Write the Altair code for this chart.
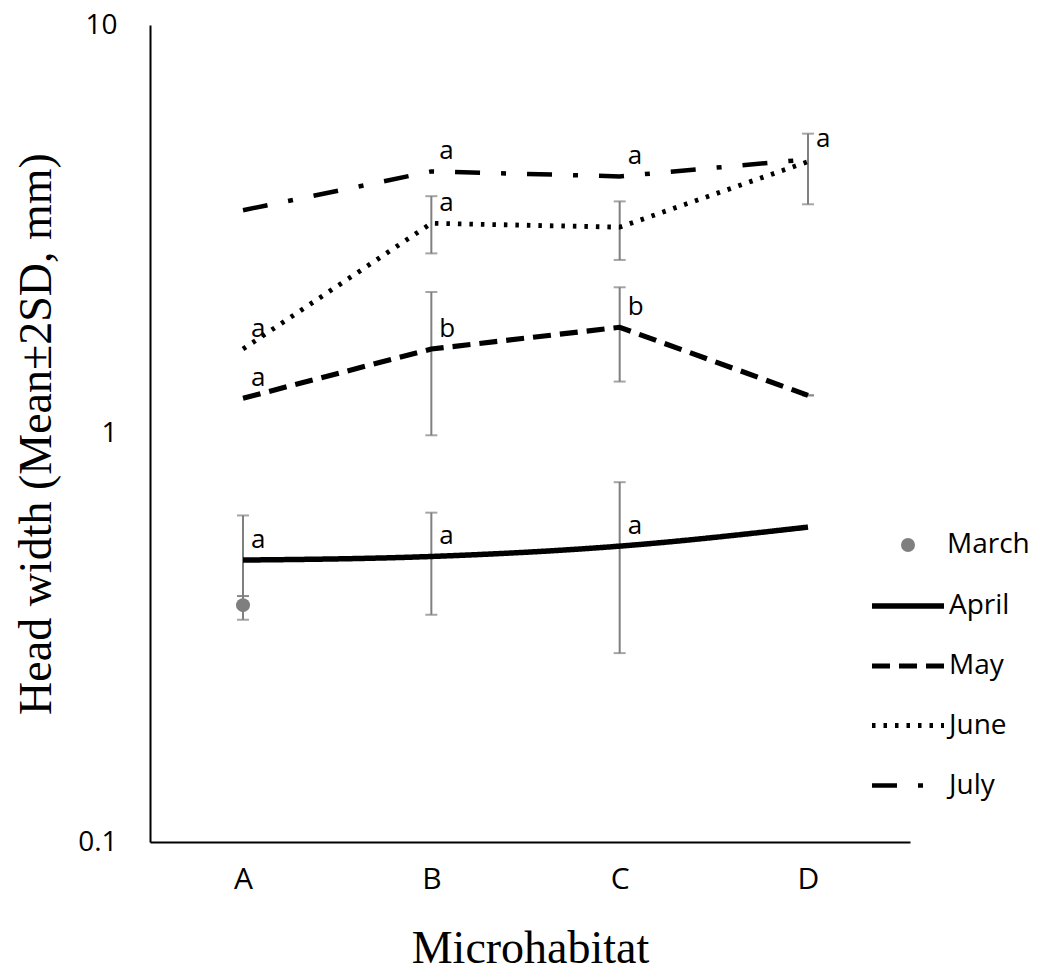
import altair as alt
import pandas as pd

# ---------------- data ----------------
sites = ["A", "B", "C", "D"]
line_months = ["April", "May", "June", "July"]

march_site = ["A"]
march_mean = [0.38]
march_lo = [0.35]
march_hi = [0.40]

april_mean = [0.49, 0.50, 0.53, 0.59]
may_mean = [1.22, 1.61, 1.82, 1.24]
june_mean = [1.61, 3.27, 3.20, 4.63]
july_mean = [3.52, 4.38, 4.26, 4.69]

err_month = ["April", "April", "April", "May", "May", "May", "June", "June", "June"]
err_site = ["A", "B", "C", "B", "C", "D", "B", "C", "D"]
err_lo = [0.40, 0.36, 0.29, 0.99, 1.34, 1.24, 2.76, 2.66, 3.64]
err_hi = [0.63, 0.64, 0.76, 2.22, 2.28, 1.24, 3.81, 3.70, 5.42]

lab_month = ["April", "April", "April", "May", "May", "May", "June", "June", "July", "July", "July"]
lab_site = ["A", "B", "C", "A", "B", "C", "A", "B", "B", "C", "D"]
lab_text = ["a", "a", "a", "a", "b", "b", "a", "a", "a", "a", "a"]

y_ticks = [0.1, 1, 10]

# ---------------- tables ----------------
series = {"April": april_mean, "May": may_mean, "June": june_mean, "July": july_mean}
lines = pd.DataFrame(
    [{"month": m, "site": s, "v": v} for m in line_months for s, v in zip(sites, series[m])]
)
errs = pd.DataFrame({"month": err_month, "site": err_site, "lo": err_lo, "hi": err_hi})
march = pd.DataFrame({"month": ["March"], "site": march_site, "v": march_mean,
                      "lo": march_lo, "hi": march_hi})
lookup = {(r.month, r.site): r.v for r in lines.itertuples()}
labels = pd.DataFrame({"month": lab_month, "site": lab_site, "text": lab_text,
                       "v": [lookup[(m, s)] for m, s in zip(lab_month, lab_site)]})

GRAY = "#7f7f7f"

x_scale = alt.Scale(type="point", domain=sites, padding=0.5177, align=0.477)
x_enc = alt.X("site:N", scale=x_scale, axis=alt.Axis(title="Microhabitat", labelAngle=0))
y_scale = alt.Scale(type="log", domain=[0.1, 10], nice=False)
y_enc = alt.Y("v:Q", scale=y_scale,
              axis=alt.Axis(title="Head width (Mean\u00b12SD, mm)", values=y_ticks, format="~g"))

dash_scale = alt.Scale(domain=line_months, range=[[1, 0], [18, 9], [3.5, 8], [25, 21, 5, 21]])
width_scale = alt.Scale(domain=line_months, range=[5.5, 4.5, 3.5, 5.5])
dash_legend = alt.Legend(title=None, orient="none", legendX=719, legendY=542,
                         symbolType="stroke", symbolSize=5184, symbolStrokeWidth=4,
                         symbolStrokeColor="black", labelOffset=2, rowPadding=7,
                         labelFontSize=28, labelFont="Open Sans", labelColor="black", padding=0)

# error bars
def err_layers(df):
    rule = alt.Chart(df).mark_rule(color=GRAY, strokeWidth=2).encode(
        x=x_enc, y=alt.Y("lo:Q", scale=y_scale), y2="hi:Q")
    lo = alt.Chart(df).mark_tick(color=GRAY, thickness=2, size=12, orient="horizontal").encode(
        x=x_enc, y=alt.Y("lo:Q", scale=y_scale))
    hi = alt.Chart(df).mark_tick(color=GRAY, thickness=2, size=12, orient="horizontal").encode(
        x=x_enc, y=alt.Y("hi:Q", scale=y_scale))
    return [rule, lo, hi]

m_point = alt.Chart(march).mark_point(filled=True, size=196, shape="circle", opacity=1).encode(
    x=x_enc, y=alt.Y("v:Q", scale=y_scale),
    color=alt.Color("month:N", scale=alt.Scale(domain=["March"], range=[GRAY]),
                    legend=alt.Legend(title=None, orient="none", legendX=744, legendY=506,
                                      symbolType="circle", symbolSize=196, labelOffset=25,
                                      labelFontSize=28, labelFont="Open Sans",
                                      labelColor="black", padding=0, symbolOpacity=1)))

def line_layer(months, interp):
    return alt.Chart(lines).transform_filter(
        alt.FieldOneOfPredicate(field="month", oneOf=months)
    ).mark_line(color="black", interpolate=interp, strokeCap="butt").encode(
        x=x_enc, y=y_enc,
        strokeDash=alt.StrokeDash("month:N", scale=dash_scale, legend=dash_legend),
        strokeWidth=alt.StrokeWidth("month:N", scale=width_scale, legend=None),
        detail="month:N",
    )

april_line = line_layer(["April"], "monotone")
other_lines = line_layer(["May", "June", "July"], "linear")

letters = alt.Chart(labels).mark_text(align="left", baseline="middle", dx=8, dy=-20,
                                      font="Open Sans", fontSize=26, color="black").encode(
    x=x_enc, y=alt.Y("v:Q", scale=y_scale), text="text:N")

chart = alt.layer(
    *err_layers(errs), *err_layers(march),
    april_line, other_lines, m_point, letters
).properties(
    width=760, height=817,
    autosize=alt.AutoSizeParams(type="none"),
    padding={"left": 142, "top": 17, "right": 134, "bottom": 130},
).configure_view(stroke=None).configure_axis(
    grid=False, ticks=False, domainColor="black", domainWidth=2,
    labelFont="Open Sans", labelFontSize=30, labelColor="black",
    titleFont="Liberation Serif", titleFontSize=46, titleFontWeight="normal", titleColor="black",
).configure_axisX(labelPadding=22, titlePadding=32).configure_axisY(
    labelPadding=33, titlePadding=17, labelFontSize=28
)

chart.save("out.html", embed_options={"renderer": "svg", "actions": False})
